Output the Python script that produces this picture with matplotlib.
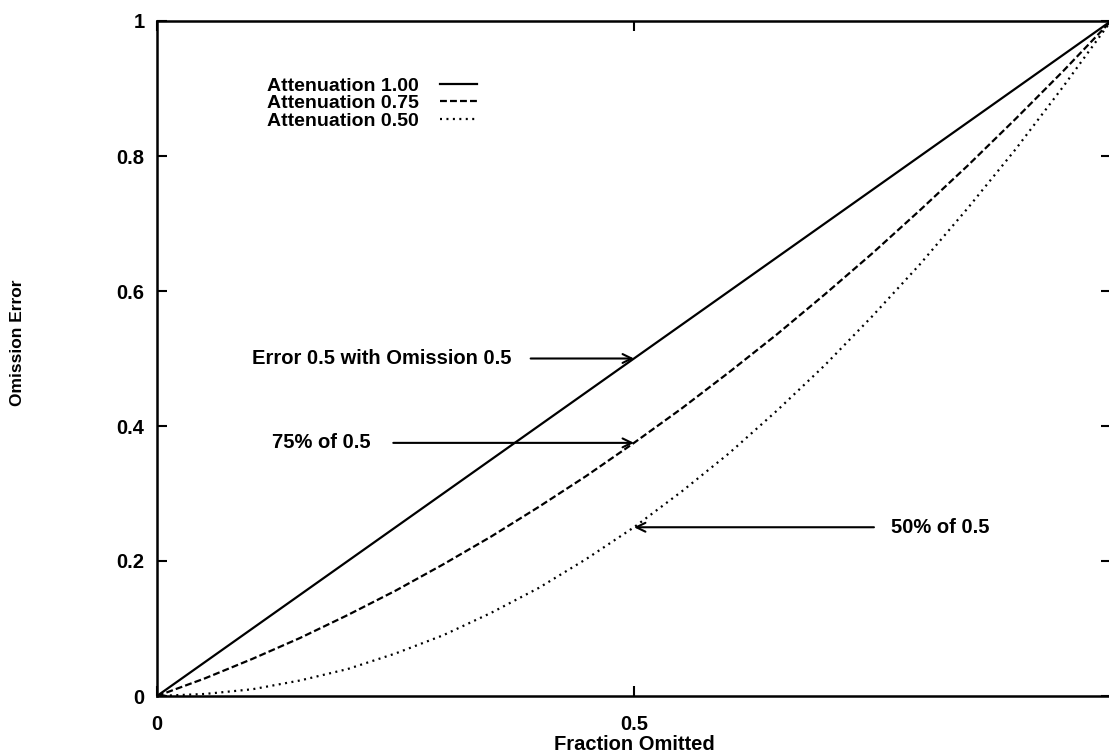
import matplotlib
matplotlib.use('Agg')
import matplotlib.pyplot as plt

# values
fraction = [0.0, 0.05, 0.1, 0.15, 0.2, 0.25, 0.3, 0.35, 0.4, 0.45, 0.5,
            0.55, 0.6, 0.65, 0.7, 0.75, 0.8, 0.85, 0.9, 0.95, 1.0]
err_att100 = [0.0, 0.05, 0.1, 0.15, 0.2, 0.25, 0.3, 0.35, 0.4, 0.45, 0.5,
              0.55, 0.6, 0.65, 0.7, 0.75, 0.8, 0.85, 0.9, 0.95, 1.0]
err_att075 = [0.0, 0.026, 0.055, 0.086, 0.12, 0.156, 0.195, 0.236, 0.28, 0.326, 0.375,
              0.426, 0.48, 0.536, 0.595, 0.656, 0.72, 0.786, 0.855, 0.926, 1.0]
err_att050 = [0.0, 0.003, 0.01, 0.023, 0.04, 0.063, 0.09, 0.123, 0.16, 0.203, 0.25,
              0.303, 0.36, 0.423, 0.49, 0.563, 0.64, 0.723, 0.81, 0.903, 1.0]
series_labels = ['Attenuation 1.00', 'Attenuation 0.75', 'Attenuation 0.50']

x_ticks = [0, 0.5, 1]
x_tick_labels = ['0', '0.5', '']  # the "1" falls outside the scanned page
y_ticks = [0, 0.2, 0.4, 0.6, 0.8, 1]
y_tick_labels = ['0', '0.2', '0.4', '0.6', '0.8', '1']

# annotations: text, target point, text position, gap before the arrow
notes = [
    ('Error 0.5 with Omission 0.5', (0.5, 0.5), (0.1, 0.5), 11.5),
    ('75% of 0.5', (0.5, 0.375), (0.121, 0.375), 14),
    ('50% of 0.5', (0.5, 0.25), (0.769, 0.25), 10),
]

plt.rcParams['font.family'] = ['Liberation Sans', 'DejaVu Sans']
plt.rcParams['font.weight'] = 'bold'
FS = 14.5

fig = plt.figure(figsize=(11.09, 7.54), dpi=100)
ax = fig.add_axes([157 / 1109, 1 - 696 / 754, 954 / 1109, 675 / 754])

ax.plot(fraction, err_att100, color='black', lw=1.6, label=series_labels[0])
ax.plot(fraction, err_att075, color='black', lw=1.6, dashes=(3.1, 1.4), label=series_labels[1])
ax.plot(fraction, err_att050, color='black', lw=1.6, dashes=(0.9, 2.0), label=series_labels[2])

for text, xy, xytext, gap in notes:
    ax.annotate(text, xy=xy, xytext=xytext, ha='left', va='center', fontsize=FS,
                fontweight='bold',
                arrowprops=dict(arrowstyle='->,head_length=0.45,head_width=0.22',
                                color='black', lw=1.5, shrinkA=gap, shrinkB=0))

ax.set_xlim(0, 1)
ax.set_ylim(0, 1)
ax.set_xticks(x_ticks)
ax.set_xticklabels(x_tick_labels)
ax.set_yticks(y_ticks)
ax.set_yticklabels(y_tick_labels)
ax.tick_params(direction='in', length=7, width=1.5, top=True, right=True, labelsize=FS)
ax.tick_params(axis='y', pad=9)
ax.tick_params(axis='x', pad=13.5)
for s in ax.spines.values():
    s.set_linewidth(1.8)

ax.set_xlabel('Fraction Omitted', fontsize=FS, fontweight='bold', labelpad=1)
fig.text(18 / 1109, 1 - 343 / 754, 'Omission Error', rotation=90, ha='center', va='center',
         fontsize=12.5, fontweight='bold')

ax.legend(loc='upper left', bbox_to_anchor=(0.115, 0.917), frameon=False, markerfirst=False,
          handlelength=1.9, handletextpad=1.1, labelspacing=0.0, borderpad=0,
          borderaxespad=0, prop={'size': 14, 'weight': 'bold'})

fig.savefig('out.png', dpi=100)
